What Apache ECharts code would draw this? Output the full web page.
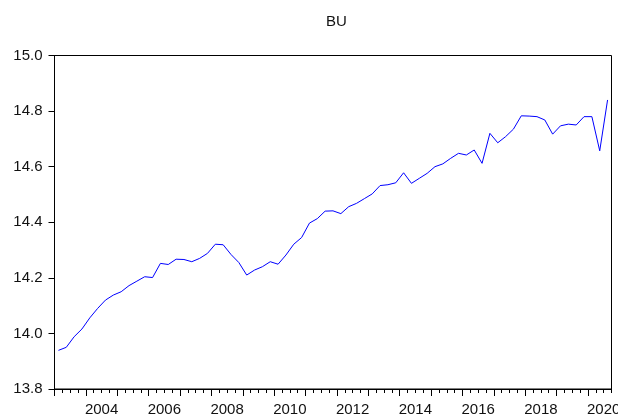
<!DOCTYPE html>
<html>
<head>
<meta charset="utf-8">
<script src="https://cdn.jsdelivr.net/npm/echarts@6/dist/echarts.min.js"></script>
<style>
html,body{margin:0;padding:0;background:#fff;}
#c{width:618px;height:419px;}
</style>
</head>
<body>
<div id="c"></div>
<script>
// Quarterly series BU, 2003Q1 .. 2020Q3
var startYear = 2003;
var buValues = [
  13.939, 13.950, 13.988, 14.016, 14.056, 14.090, 14.120, 14.138,
  14.150, 14.172, 14.188, 14.204, 14.201, 14.252, 14.248, 14.267,
  14.266, 14.258, 14.270, 14.288, 14.321, 14.319, 14.284, 14.255,
  14.210, 14.228, 14.240, 14.258, 14.249, 14.282, 14.321, 14.345,
  14.397, 14.413, 14.440, 14.441, 14.431, 14.456, 14.468, 14.485,
  14.502, 14.532, 14.535, 14.542, 14.578, 14.540, 14.558, 14.576,
  14.600, 14.610, 14.630, 14.648, 14.642, 14.660, 14.612, 14.720,
  14.686, 14.708, 14.735, 14.783, 14.782, 14.780, 14.768, 14.717,
  14.747, 14.753, 14.750, 14.780, 14.780, 14.657, 14.840
];
var yearTicks = [2003,2004,2005,2006,2007,2008,2009,2010,2011,2012,2013,2014,2015,2016,2017,2018,2019,2020];
var yearLabels = [2004,2006,2008,2010,2012,2014,2016,2018,2020];
var yTicks = [13.8, 14.0, 14.2, 14.4, 14.6, 14.8, 15.0];

// quarter midpoints in fractional years
var seriesData = buValues.map(function (v, i) {
  return [startYear + (i + 0.5) / 4, v];
});
var xMin = startYear;
var xMax = startYear + buValues.length / 4;

var font = 'Liberation Sans, Arial, sans-serif';
var chart = echarts.init(document.getElementById('c'), null, {renderer: 'canvas'});
chart.setOption({
  animation: false,
  backgroundColor: '#ffffff',
  title: {
    text: 'BU',
    left: 321, top: 9,
    textStyle: {fontFamily: font, fontSize: 15, fontWeight: 'normal', color: '#111'}
  },
  grid: {
    left: 54.5, right: 6.5, top: 55.5, bottom: 30,
    containLabel: false, outerBoundsMode: 'none',
    show: true, borderColor: '#000', borderWidth: 1, backgroundColor: 'transparent'
  },
  xAxis: [
    {
      type: 'value', position: 'bottom', min: xMin, max: xMax, interval: 0.25,
      axisLine: {show: true, lineStyle: {color: '#000', width: 1}},
      axisTick: {show: true, length: 4, lineStyle: {color: '#000'}},
      axisLabel: {show: false},
      splitLine: {show: false}
    },
    {
      type: 'value', position: 'bottom', offset: 0, min: xMin, max: xMax,
      axisLine: {show: false},
      axisTick: {show: true, length: 7, customValues: yearTicks, lineStyle: {color: '#000'}},
      axisLabel: {
        show: true, customValues: yearLabels.map(function (y) { return y + 0.5; }),
        formatter: function (v) { return String(Math.floor(v)); },
        margin: 13, fontFamily: font, fontSize: 15, color: '#111'
      },
      splitLine: {show: false}
    }
  ],
  yAxis: {
    type: 'value', min: yTicks[0], max: yTicks[yTicks.length - 1], interval: 0.2,
    axisLine: {show: true, lineStyle: {color: '#000', width: 1}},
    axisTick: {show: true, length: 6, lineStyle: {color: '#000'}},
    axisLabel: {
      margin: 12, fontFamily: font, fontSize: 15, color: '#111',
      formatter: function (v) { return v.toFixed(1); }
    },
    splitLine: {show: false}
  },
  series: [{
    type: 'line', xAxisIndex: 0, data: seriesData,
    showSymbol: false, symbol: 'none',
    lineStyle: {color: '#0000ff', width: 1},
    itemStyle: {color: '#0000ff'}
  }]
});
</script>
</body>
</html>
